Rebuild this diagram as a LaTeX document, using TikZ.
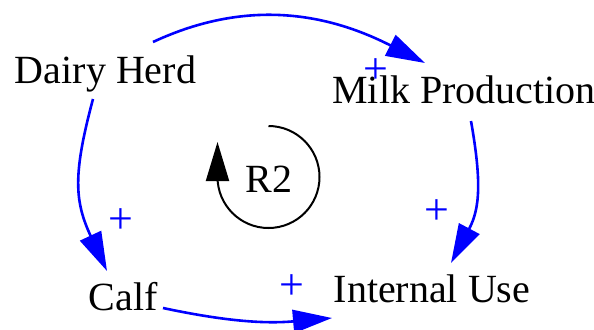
\documentclass[tikz,border=0pt]{standalone}
\usepackage{fontspec}
\setmainfont{Liberation Serif}
\newfontfamily\labelfont{Liberation Serif}
\usetikzlibrary{arrows.meta}

\begin{document}
\begin{tikzpicture}[x=0.5pt,y=0.5pt,>={Triangle[length=19.5pt,width=11.5pt]},
    var/.style={font=\labelfont\fontsize{20}{24}\selectfont,inner sep=0pt,anchor=base},
    link/.style={->,blue,line width=1.3pt},
    pol/.style={blue,font=\labelfont\fontsize{22}{24}\selectfont,inner sep=0pt},
    loopline/.style={->,black,line width=1pt}]
  \useasboundingbox (0,0) rectangle (594,329);

  % ================= variables =================
  \node[var] (dairy)    at (105.5,246) {Dairy Herd};
  \node[var] (milk)     at (464,226)   {Milk Production};
  \node[var] (calf)     at (123,19)    {Calf};
  \node[var] (internal) at (432,27)    {Internal Use};

  % ================= causal links =================
  \draw[link] ([shift={(47.5,41)}]dairy.base) to[out=25,in=153]
    ([shift={(-39,40)}]milk.base);
  \draw[link] ([shift={(-12.5,-16)}]dairy.base) to[out=-105,in=115,looseness=1.15]
    ([shift={(-16,39)}]calf.base);
  \draw[link] ([shift={(40,2)}]calf.base) to[out=-12,in=185]
    ([shift={(-100,-16)}]internal.base);
  \draw[link] ([shift={(7,-18)}]milk.base) to[out=-80,in=62,looseness=1.1]
    ([shift={(19,39)}]internal.base);

  % ================= polarities =================
  \node[pol] (p1) at (376,258) {+};
  \node[pol] (p2) at (121,108) {+};
  \node[pol] (p3) at (292,42)  {+};
  \node[pol] (p4) at (437,117) {+};

  % ================= loop R2 =================
  \coordinate (loopc) at (268.5,152);
  \node[var] (r2) at (269,137) {R2};
  \draw[loopline] ([shift={(0,51)}]loopc) arc[start angle=90,end angle=-180,radius=51]
    -- ++(0,35);

\end{tikzpicture}
\end{document}
